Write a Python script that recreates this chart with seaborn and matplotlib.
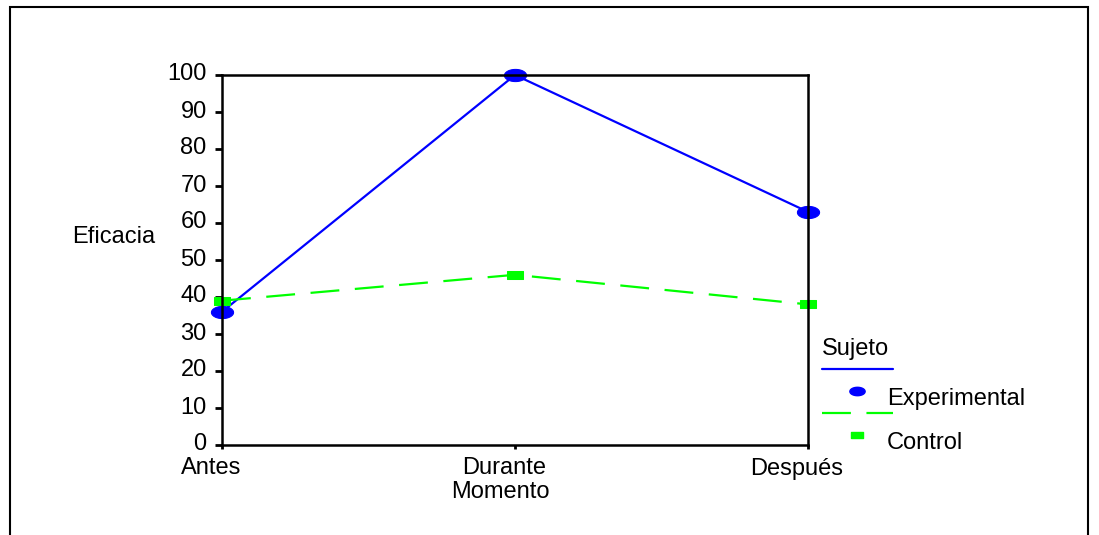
import numpy as np
import pandas as pd
import seaborn as sns
from matplotlib import pyplot as plt
from matplotlib.path import Path
from matplotlib.lines import Line2D
from matplotlib.patches import Rectangle
from matplotlib.transforms import ScaledTranslation

# datos
momentos = ['Antes', 'Durante', 'Después']
experimental = [36, 100, 63]
control = [39, 46, 38]
grupos = ['Experimental', 'Control']
y_ticks = list(range(0, 101, 10))

df = pd.DataFrame({
    'Momento': momentos * 2,
    'Eficacia': experimental + control,
    'Sujeto': [grupos[0]] * 3 + [grupos[1]] * 3,
})

sns.set_style('white')
plt.rcParams['font.family'] = ['Liberation Sans', 'DejaVu Sans']
plt.rcParams['text.color'] = 'black'
plt.rcParams['axes.labelcolor'] = 'black'
fs = 17

# marcadores: elipse azul y rectangulo verde
t = np.linspace(0, 2 * np.pi, 40)
elipse = Path(np.column_stack([np.cos(t), 0.55 * np.sin(t)]), closed=True)
rect = Path([(-1, -0.55), (1, -0.55), (1, 0.55), (-1, 0.55), (-1, -0.55)], closed=True)

azul = '#0000FF'
verde = '#00FF00'

fig = plt.figure(figsize=(10.99, 5.35), dpi=100)
ax = fig.add_axes([222 / 1099, 1 - 445 / 535, (808 - 222) / 1099, (445 - 75) / 535])

sns.lineplot(data=df, x='Momento', y='Eficacia', hue='Sujeto', style='Sujeto',
             palette={grupos[0]: azul, grupos[1]: verde},
             markers={grupos[0]: elipse, grupos[1]: rect},
             dashes={grupos[0]: '', grupos[1]: (13, 7)},
             sort=False, legend=False, linewidth=1.6, ax=ax)

sizes = [16, 11.5]
for ln, ms, c in zip(ax.lines, sizes, [azul, verde]):
    ln.set_markersize(ms)
    ln.set_markeredgecolor(c)
    ln.set_markerfacecolor(c)
    ln.set_clip_on(False)

ax.set_xlim(0, 2)
ax.set_ylim(0, 100)
ax.set_yticks(y_ticks)
ax.set_xticks(range(len(momentos)))
ax.set_xticklabels(momentos)
ax.tick_params(axis='y', left=True, length=5, width=2, labelsize=fs, pad=6, colors='black')
ax.tick_params(axis='x', bottom=True, length=3, width=2, labelsize=fs, pad=6, colors='black')
for s in ax.spines.values():
    s.set_visible(True)
    s.set_color('black')
    s.set_linewidth(1.8)

# etiquetas del eje x algo desplazadas a la izquierda, como en el original
desplaza = ScaledTranslation(-11 / 100, 0, fig.dpi_scale_trans)
for lab in ax.get_xticklabels():
    lab.set_transform(lab.get_transform() + desplaza)
# y las del eje y un poco hacia arriba
sube = ScaledTranslation(0, 3 / 100, fig.dpi_scale_trans)
for lab in ax.get_yticklabels():
    lab.set_transform(lab.get_transform() + sube)

ax.set_xlabel('Momento', fontsize=fs, labelpad=1)
ax.xaxis.label.set_transform(ax.xaxis.label.get_transform() + ScaledTranslation(-15 / 100, 0, fig.dpi_scale_trans))
ax.set_ylabel('Eficacia', fontsize=fs, rotation=0, ha='right', va='center')
ax.yaxis.set_label_coords(-0.114, 0.562)

# leyenda
handles = [
    Line2D([], [], color=azul, lw=1.6),
    Line2D([], [], ls='', marker=elipse, color=azul, markersize=11),
    Line2D([], [], color=verde, lw=1.6, dashes=(13, 7)),
    Line2D([], [], ls='', marker=rect, color=verde, markersize=9),
]
labels = ['', grupos[0], '', grupos[1]]
leg = fig.legend(handles, labels, loc='upper left', bbox_to_anchor=(822 / 1099, 1 - 338 / 535),
                 frameon=False, title='Sujeto', title_fontsize=fs, fontsize=fs,
                 alignment='left', handlelength=3.0, labelspacing=0.0, handletextpad=-0.25,
                 borderpad=0, borderaxespad=0)
# el texto queda un poco por debajo del marcador
baja = ScaledTranslation(0, -6 / 100, fig.dpi_scale_trans)
for txt in leg.get_texts():
    txt.set_transform(txt.get_transform() + baja)

# marco exterior
fig.add_artist(Rectangle((10 / 1099, -0.1), (1088 - 10) / 1099, 1 - 7 / 535 + 0.1,
                         transform=fig.transFigure, fill=False, lw=1.5,
                         edgecolor='black', clip_on=False))

fig.savefig('out.png', dpi=100)
